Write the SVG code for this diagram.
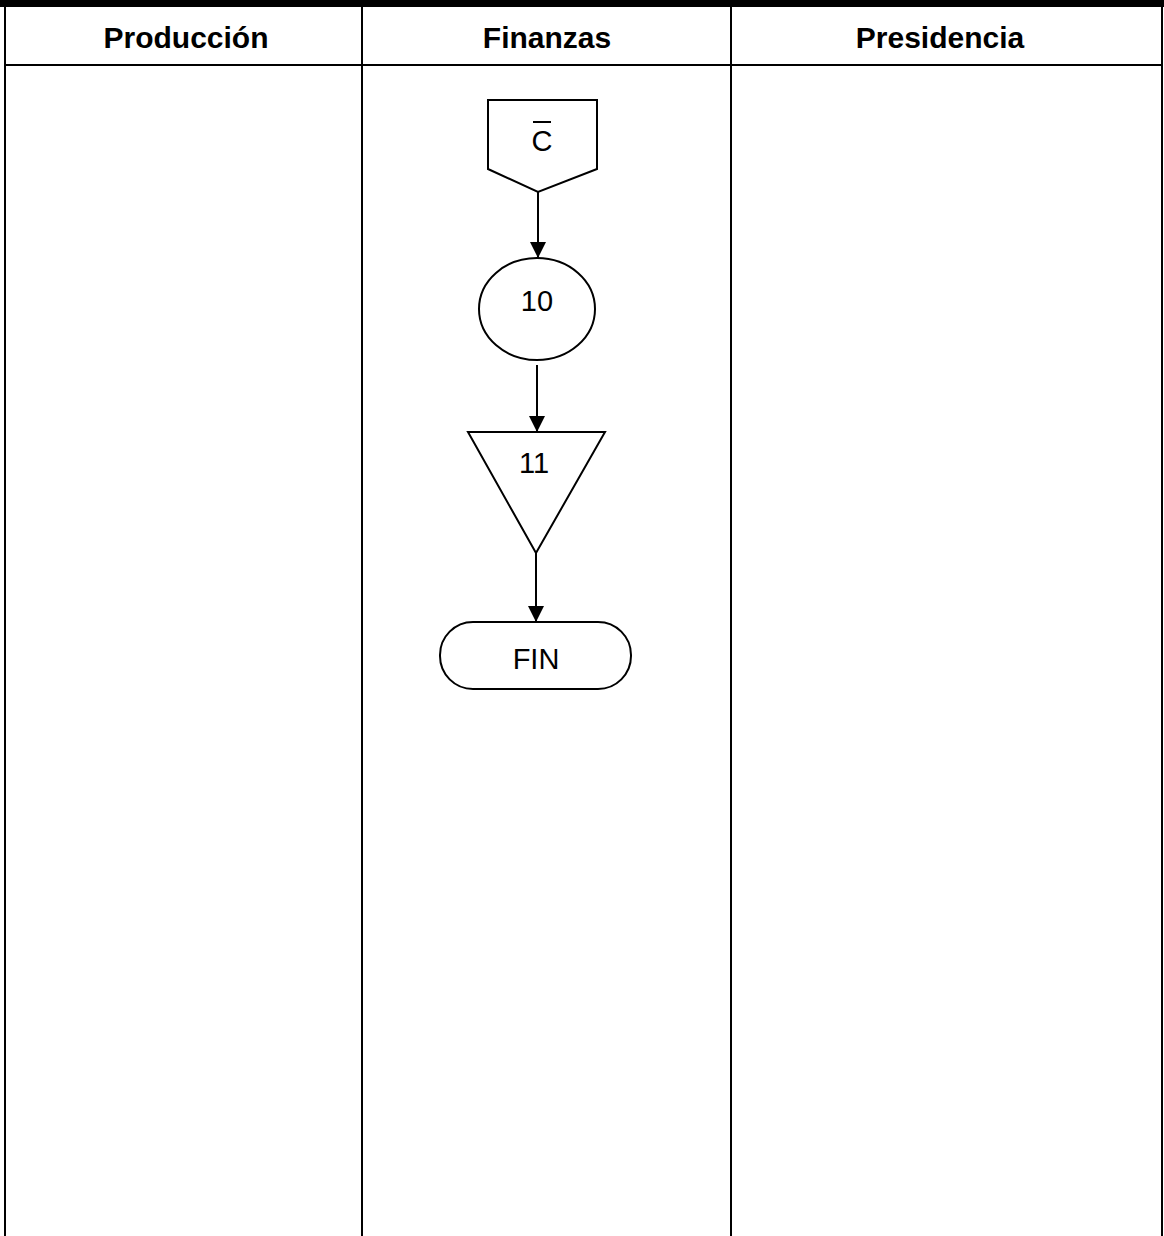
<svg xmlns="http://www.w3.org/2000/svg" width="1164" height="1236" viewBox="0 0 1164 1236">
<style>
.lane{stroke:#000;stroke-width:2;fill:none}
.shape{fill:#fff;stroke:#000;stroke-width:2}
.hdr{font-family:"Liberation Sans",Arial,sans-serif;font-weight:bold;font-size:30px;fill:#000;text-anchor:middle}
.lbl{font-family:"Liberation Sans",Arial,sans-serif;font-size:29px;fill:#000;text-anchor:middle}
.conn{stroke:#000;stroke-width:2;fill:none;marker-end:url(#arr)}
</style>
<defs>
<marker id="arr" viewBox="0 0 16 16" refX="16" refY="8" markerWidth="16" markerHeight="16" markerUnits="userSpaceOnUse" orient="auto">
<path d="M0,0 L16,8 L0,16 Z" fill="#000"/>
</marker>
</defs>
<rect width="1164" height="1236" fill="#fff"/>
<g id="frame">
<rect x="0" y="0" width="1164" height="7" fill="#000"/>
<line class="lane" x1="5" y1="6" x2="5" y2="1236"/>
<line class="lane" x1="362" y1="6" x2="362" y2="1236"/>
<line class="lane" x1="731" y1="6" x2="731" y2="1236"/>
<line class="lane" x1="1162" y1="6" x2="1162" y2="1236"/>
<line class="lane" x1="5" y1="65" x2="1162" y2="65"/>
<text class="hdr" x="186" y="48">Producción</text>
<text class="hdr" x="547" y="48">Finanzas</text>
<text class="hdr" x="940" y="48">Presidencia</text>
</g>
<g id="connectors">
<line class="conn" x1="538" y1="192" x2="538" y2="258"/>
<line class="conn" x1="537" y1="365" x2="537" y2="432"/>
<line class="conn" x1="536" y1="553" x2="536" y2="622"/>
</g>
<g id="node-c">
<polygon class="shape" points="488,100 597,100 597,169 538,192 488,169"/>
<text class="lbl" x="542" y="151">C</text>
<line x1="533" y1="122" x2="551" y2="122" stroke="#000" stroke-width="2"/>
</g>
<g id="node-10">
<ellipse class="shape" cx="537" cy="309" rx="58" ry="51"/>
<text class="lbl" x="537" y="311">10</text>
</g>
<g id="node-11">
<polygon class="shape" points="468,432 605,432 536,553"/>
<text class="lbl" x="534" y="473">11</text>
</g>
<g id="node-fin">
<rect class="shape" x="440" y="622" width="191" height="67" rx="33" ry="33"/>
<text class="lbl" x="536" y="669">FIN</text>
</g>
</svg>
